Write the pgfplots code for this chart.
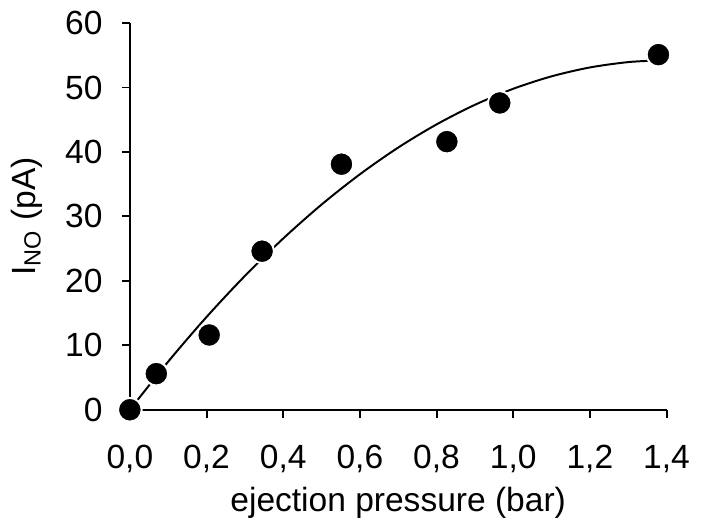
\documentclass[border=0pt]{standalone}
\usepackage{fontspec}
\setmainfont{Liberation Sans}
\usepackage{pgfplots}
\pgfplotsset{compat=1.18}

\begin{document}
\fontsize{17pt}{20pt}\selectfont
\begin{tikzpicture}
% I_NO vs ejection pressure: measured points + fitted curve
\begin{axis}[
    scale only axis, width=272pt, height=196pt,
    xmin=0, xmax=1.4, ymin=0, ymax=60,
    axis x line*=bottom, axis y line*=left,
    axis line style={line width=1pt, -},
    xtick={0,0.2,...,1.4}, ytick={0,10,...,60},
    tick align=outside, major tick length=4pt,
    tick style={line width=1pt, black},
    xticklabel style={/pgf/number format/use comma, /pgf/number format/fixed,
      /pgf/number format/fixed zerofill, /pgf/number format/precision=1, yshift=-8pt},
    /pgf/number format/assume math mode=true,
    yticklabel style={xshift=-4pt},
    xlabel={ejection pressure (bar)},
    ylabel={I\textsubscript{NO} (pA)},
    xlabel style={yshift=4pt},
    ylabel style={yshift=0pt},
    clip=false,
]
% fitted curve
\addplot[line width=1pt, black, smooth] coordinates
  {(0,0)(0.1,7.47)(0.2,14.39)(0.3,20.76)(0.4,26.57)(0.5,31.83)(0.6,36.53)(0.7,40.68)
   (0.8,44.27)(0.9,47.31)(1.0,49.80)(1.1,51.73)(1.2,53.11)(1.3,53.94)(1.38,54.20)};
% measured
\addplot[only marks, mark=*, mark size=6pt, mark options={fill=black, draw=white, line width=1pt}]
  coordinates {(0,0)(0.069,5.6)(0.207,11.6)(0.345,24.6)(0.552,38.1)(0.827,41.6)(0.965,47.6)(1.379,55.1)};
\end{axis}
\end{tikzpicture}
\end{document}
